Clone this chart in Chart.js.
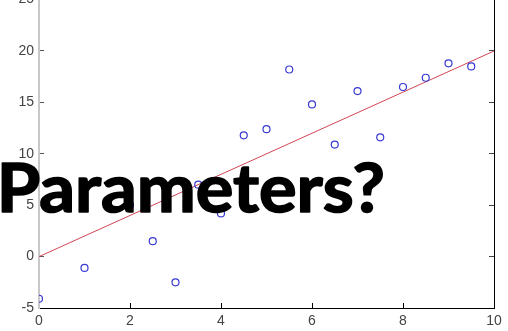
<!DOCTYPE html>
<html>
<head>
<meta charset="utf-8">
<script src="https://cdn.jsdelivr.net/npm/chart.js@4"></script>
<style>
  html, body { margin: 0; padding: 0; background: #fff; overflow: hidden; }
  #wrap { position: absolute; left: 0; top: -20px; width: 508px; height: 351px; }
</style>
</head>
<body>
<div id="wrap"><canvas id="chart"></canvas></div>
<script>
// Data
const xValues = [0, 1, 2, 2.5, 3, 3.5, 4, 4.5, 5, 5.5, 6, 6.5, 7, 7.5, 8, 8.5, 9, 9.5];
const yValues = [-4.1, -1.1, 5.0, 1.5, -2.5, 7.0, 4.2, 11.8, 12.4, 18.2, 14.8, 10.9, 16.1, 11.6, 16.5, 17.4, 18.8, 18.5];
const fitX = [0, 10];
const fitY = [0, 20];
const xTicks = [0, 2, 4, 6, 8, 10];
const yTicks = [-5, 0, 5, 10, 15, 20, 25];
const overlayText = 'Parameters?';

const points = xValues.map((x, i) => ({ x: x, y: yValues[i] }));
const fitLine = fitX.map((x, i) => ({ x: x, y: fitY[i] }));

// big caption drawn over the plot
const captionPlugin = {
    id: 'caption',
    afterDraw(chart) {
        const ctx = chart.ctx;
        ctx.save();
        ctx.font = 'bold 67px Lato';
        ctx.fillStyle = '#000';
        ctx.strokeStyle = '#000';
        ctx.lineWidth = 1.6;
        ctx.lineJoin = 'round';
        ctx.textBaseline = 'alphabetic';
        const m = ctx.measureText(overlayText);
        const w = m.actualBoundingBoxLeft + m.actualBoundingBoxRight;
        const sx = (383 - 2) / w;
        ctx.translate(2, 232);
        ctx.scale(sx, 1);
        ctx.fillText(overlayText, m.actualBoundingBoxLeft, 0);
        ctx.strokeText(overlayText, m.actualBoundingBoxLeft, 0);
        ctx.restore();
    }
};

const tickFont = { family: 'Liberation Sans', size: 14 };

new Chart(document.getElementById('chart'), {
    type: 'scatter',
    data: {
        datasets: [
            {
                data: points,
                showLine: false,
                pointStyle: 'circle',
                pointRadius: 3.5,
                pointBorderWidth: 1.2,
                pointBorderColor: '#3a3ad2',
                pointBackgroundColor: 'rgba(0,0,0,0)'
            },
            {
                type: 'line',
                data: fitLine,
                borderColor: '#d04656',
                borderWidth: 1,
                pointRadius: 0,
                fill: false
            }
        ]
    },
    options: {
        responsive: true,
        maintainAspectRatio: false,
        animation: false,
        events: [],
        layout: { padding: { top: 19.6, right: 0, bottom: 0, left: 0 } },
        plugins: {
            legend: { display: false },
            tooltip: { enabled: false }
        },
        scales: {
            x: {
                type: 'linear',
                min: 0, max: 10,
                afterBuildTicks: s => { s.ticks = xTicks.map(v => ({ value: v })); },
                afterFit: s => { s.height = 23; s.paddingLeft = 0; s.paddingRight = 0; },
                border: { color: '#000', width: 1 },
                grid: { drawOnChartArea: false, tickLength: -5, tickColor: '#000' },
                ticks: { color: '#444', font: tickFont, padding: 10, maxRotation: 0 }
            },
            y: {
                min: -5, max: 25,
                afterBuildTicks: s => { s.ticks = yTicks.map(v => ({ value: v })); },
                afterFit: s => { s.width = 39; },
                border: { color: '#c8c8c8', width: 2 },
                grid: { drawOnChartArea: false, tickLength: -5, tickColor: '#555' },
                ticks: { color: '#444', font: tickFont, padding: 10 }
            },
            y2: {
                position: 'right',
                min: -5, max: 25,
                afterBuildTicks: s => { s.ticks = yTicks.map(v => ({ value: v })); },
                afterFit: s => { s.width = 14; },
                border: { color: '#000', width: 1 },
                grid: { drawOnChartArea: false, tickLength: -5, tickColor: '#444' },
                ticks: { display: false }
            }
        }
    },
    plugins: [captionPlugin]
});
</script>
</body>
</html>
